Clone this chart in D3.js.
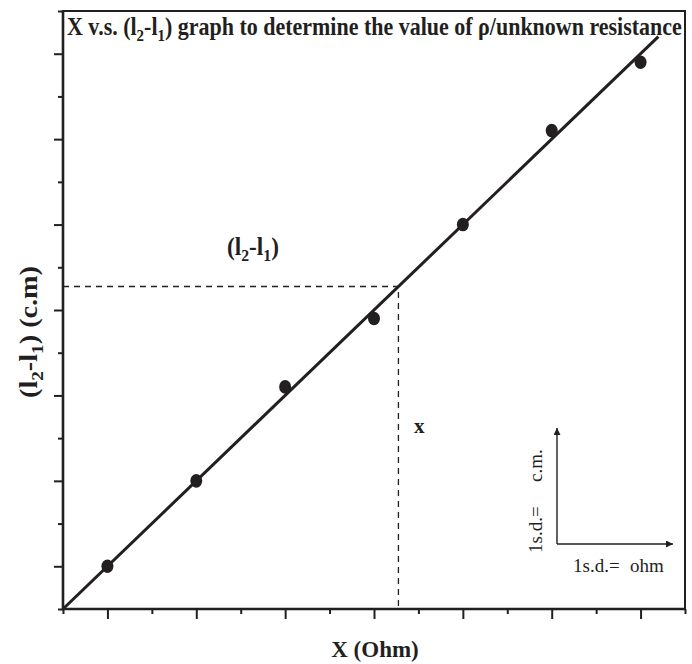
<!DOCTYPE html>
<html>
<head>
<meta charset="utf-8">
<script src="https://cdn.jsdelivr.net/npm/d3@7"></script>
<style>
  body { margin: 0; background: #fff; }
  svg { display: block; }
  text { font-family: "Liberation Serif", "Times New Roman", serif; fill: #231f20; }
</style>
</head>
<body>
<div id="chart"></div>
<script>
// Measured points (in "small-division" units)
const xVals = [1, 3, 5, 7, 9, 11, 13];
const yVals = [1.0, 3.0, 5.2, 6.8, 9.0, 11.2, 12.8];
// Best-fit line end points
const fitX = [0, 13.4];
const fitY = [0, 13.4];
// Reading taken off the line
const readX = 7.55;
const readY = 7.55;
// Ticks
const majorTicks = [1, 3, 5, 7, 9, 11, 13];
const minorTicks = [0, 2, 4, 6, 8, 10, 12, 14];

const width = 692, height = 664;
const margin = { left: 63, right: 7, top: 11, bottom: 55 };
const ink = '#231f20';

const svg = d3.select('#chart').append('svg')
    .attr('width', width)
    .attr('height', height);

const x = d3.scaleLinear().domain([0, 14]).range([margin.left, width - margin.right]);
const y = d3.scaleLinear().domain([0, 14]).range([height - margin.bottom, margin.top]);

// Axes (major + minor ticks, no labels)
function styleAxis(g) {
    g.select('.domain').remove();
    g.selectAll('line').attr('stroke', ink).attr('stroke-width', 2);
}
svg.append('g')
    .attr('transform', `translate(0,${y(0)})`)
    .call(d3.axisBottom(x).tickValues(majorTicks).tickSize(10).tickFormat(''))
    .call(styleAxis);
svg.append('g')
    .attr('transform', `translate(0,${y(0)})`)
    .call(d3.axisBottom(x).tickValues(minorTicks).tickSize(5).tickFormat(''))
    .call(styleAxis);
svg.append('g')
    .attr('transform', `translate(${x(0)},0)`)
    .call(d3.axisLeft(y).tickValues(majorTicks).tickSize(9).tickFormat(''))
    .call(styleAxis);
svg.append('g')
    .attr('transform', `translate(${x(0)},0)`)
    .call(d3.axisLeft(y).tickValues(minorTicks).tickSize(5).tickFormat(''))
    .call(styleAxis);

// Frame
svg.append('rect')
    .attr('x', x(0))
    .attr('y', y(14))
    .attr('width', x(14) - x(0))
    .attr('height', y(0) - y(14))
    .attr('fill', 'none')
    .attr('stroke', ink)
    .attr('stroke-width', 2);
// Thicker bottom/left axes
svg.append('path')
    .attr('d', `M${x(0)},${y(14)}V${y(0)}H${x(14)}`)
    .attr('fill', 'none')
    .attr('stroke', ink)
    .attr('stroke-width', 2.6);

// Dashed reading lines
svg.append('path')
    .attr('d', `M${x(0)},${y(readY)}H${x(readX)}V${y(0)}`)
    .attr('fill', 'none')
    .attr('stroke', ink)
    .attr('stroke-width', 1.3)
    .attr('stroke-dasharray', '6,5');

// Fit line
svg.append('path')
    .datum(d3.zip(fitX, fitY))
    .attr('fill', 'none')
    .attr('stroke', ink)
    .attr('stroke-width', 3)
    .attr('d', d3.line().x(d => x(d[0])).y(d => y(d[1])));

// Points
svg.selectAll('.pt')
    .data(d3.zip(xVals, yVals))
    .join('ellipse')
    .attr('class', 'pt')
    .attr('cx', d => x(d[0]))
    .attr('cy', d => y(d[1]))
    .attr('rx', 6)
    .attr('ry', 6.8)
    .attr('fill', ink);

// helper for "(l2-l1)" style text with subscripts
function l2l1(t, small, tail) {
    t.append('tspan').text('(l');
    t.append('tspan').attr('dy', 6).attr('font-size', small).text('2');
    t.append('tspan').attr('dy', -6).text('-l');
    t.append('tspan').attr('dy', 6).attr('font-size', small).text('1');
    t.append('tspan').attr('dy', -6).text(tail);
}
// squeeze a text horizontally (condensed look) to a given width
function squeeze(t, x0, y0, w, rot) {
    const natural = t.node().getComputedTextLength();
    const k = w / natural;
    t.attr('transform', `translate(${x0},${y0})${rot ? ' rotate(-90)' : ''} scale(${k},1)`);
}

// Title
const title = svg.append('text')
    .attr('font-size', 25)
    .attr('font-weight', 'bold');
title.append('tspan').text('X v.s. ');
l2l1(title, 17, ') graph to determine the value of ρ/unknown resistance');
squeeze(title, 67, 35, 615);

// (l2-l1) annotation
const ann = svg.append('text')
    .attr('font-size', 25)
    .attr('font-weight', 'bold');
l2l1(ann, 17, ')');
squeeze(ann, 227, 255, 52);

svg.append('text')
    .attr('x', 414)
    .attr('y', 433)
    .attr('font-size', 21)
    .attr('font-weight', 'bold')
    .text('x');

// Axis titles
svg.append('text')
    .attr('x', 375)
    .attr('y', 657)
    .attr('text-anchor', 'middle')
    .attr('font-size', 23)
    .attr('font-weight', 'bold')
    .text('X (Ohm)');

const yt = svg.append('text')
    .attr('text-anchor', 'middle')
    .attr('font-size', 25)
    .attr('font-weight', 'bold');
l2l1(yt, 17, ') (c.m)');
squeeze(yt, 37, 332, 132, true);

// Scale legend arrows
svg.append('defs').append('marker')
    .attr('id', 'arrow')
    .attr('viewBox', '0 0 10 10')
    .attr('refX', 10)
    .attr('refY', 5)
    .attr('markerWidth', 12)
    .attr('markerHeight', 7)
    .attr('markerUnits', 'userSpaceOnUse')
    .attr('orient', 'auto')
    .append('path')
    .attr('d', 'M0,0L10,5L0,10Z')
    .attr('fill', ink);

const ox = 557, oy = 544;
svg.append('line')
    .attr('x1', ox).attr('y1', oy).attr('x2', ox).attr('y2', 428)
    .attr('stroke', ink).attr('stroke-width', 1.4)
    .attr('marker-end', 'url(#arrow)');
svg.append('line')
    .attr('x1', ox).attr('y1', oy).attr('x2', 673).attr('y2', oy)
    .attr('stroke', ink).attr('stroke-width', 1.4)
    .attr('marker-end', 'url(#arrow)');

const vleg = svg.append('text')
    .attr('transform', 'translate(542,553) rotate(-90)')
    .attr('font-size', 19);
vleg.append('tspan').attr('x', 0).text('1s.d.=');
vleg.append('tspan').attr('x', 71).text('c.m.');

const hleg = svg.append('text')
    .attr('y', 572)
    .attr('font-size', 19);
hleg.append('tspan').attr('x', 573).text('1s.d.=');
hleg.append('tspan').attr('x', 630).text('ohm');
</script>
</body>
</html>
